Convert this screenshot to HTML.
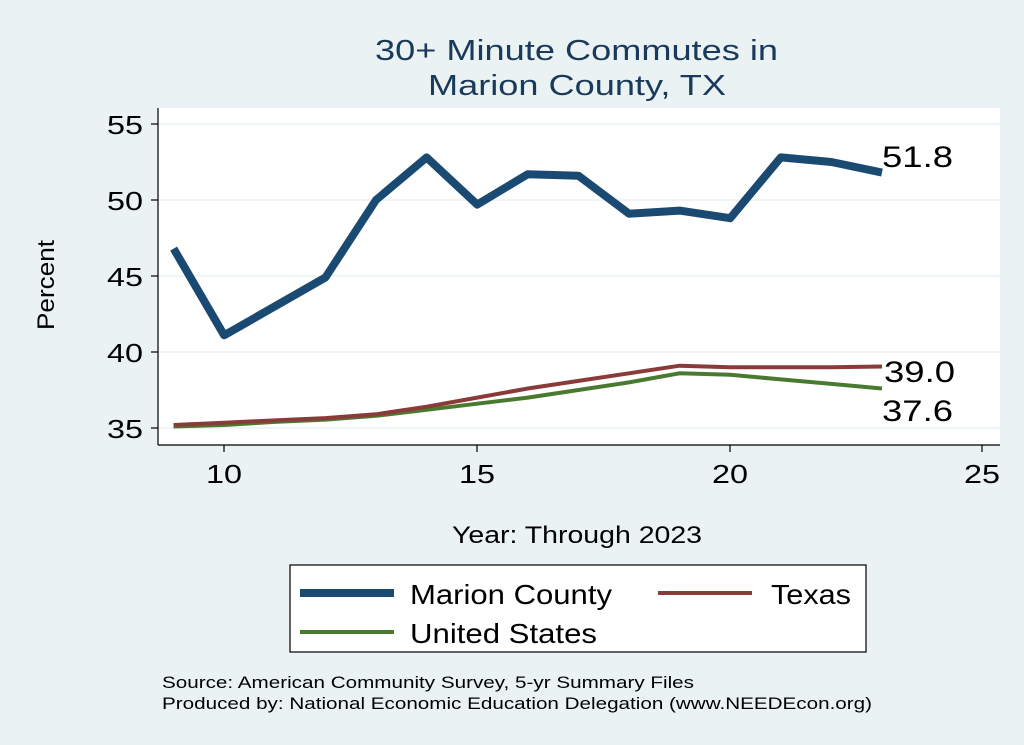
<!DOCTYPE html>
<html><head><meta charset="utf-8"><style>
html,body{margin:0;padding:0;background:#eaf2f3;}
svg{display:block;font-family:"Liberation Sans",Arial,sans-serif;}
</style></head><body>
<svg width="1024" height="745" viewBox="0 0 1024 745">
<rect width="1024" height="745" fill="#eaf2f3"/>
<text x="375" y="60" font-size="29" fill="#1a3a5c" textLength="403" lengthAdjust="spacingAndGlyphs">30+ Minute Commutes in</text>
<text x="428" y="95" font-size="29" fill="#1a3a5c" textLength="298" lengthAdjust="spacingAndGlyphs">Marion County, TX</text>
<rect x="158" y="108" width="842" height="337" fill="#fff"/>
<g stroke="#eaf2f3" stroke-width="1.5">
<line x1="158" x2="1000" y1="124" y2="124"/><line x1="158" x2="1000" y1="200" y2="200"/>
<line x1="158" x2="1000" y1="276" y2="276"/><line x1="158" x2="1000" y1="352" y2="352"/>
<line x1="158" x2="1000" y1="428" y2="428"/>
</g>
<g stroke="#000" stroke-width="1.2" fill="none">
<line x1="158" y1="108" x2="158" y2="445"/><line x1="158" y1="445" x2="1000" y2="445"/>
<line x1="151" x2="158" y1="124" y2="124"/><line x1="151" x2="158" y1="200" y2="200"/>
<line x1="151" x2="158" y1="276" y2="276"/><line x1="151" x2="158" y1="352" y2="352"/>
<line x1="151" x2="158" y1="428" y2="428"/>
<line x1="224" x2="224" y1="445" y2="452"/><line x1="477" x2="477" y1="445" y2="452"/>
<line x1="730" x2="730" y1="445" y2="452"/><line x1="982" x2="982" y1="445" y2="452"/>
</g>
<g font-size="26" fill="#000">
<text x="107" y="134" textLength="36" lengthAdjust="spacingAndGlyphs">55</text>
<text x="107" y="210" textLength="36" lengthAdjust="spacingAndGlyphs">50</text>
<text x="107" y="286" textLength="36" lengthAdjust="spacingAndGlyphs">45</text>
<text x="107" y="362" textLength="36" lengthAdjust="spacingAndGlyphs">40</text>
<text x="107" y="438" textLength="36" lengthAdjust="spacingAndGlyphs">35</text>
</g>
<g font-size="26" fill="#000">
<text x="206" y="483" textLength="36" lengthAdjust="spacingAndGlyphs">10</text>
<text x="459" y="483" textLength="36" lengthAdjust="spacingAndGlyphs">15</text>
<text x="712" y="483" textLength="36" lengthAdjust="spacingAndGlyphs">20</text>
<text x="964" y="483" textLength="36" lengthAdjust="spacingAndGlyphs">25</text>
</g>
<text x="452" y="543" font-size="24" textLength="250" lengthAdjust="spacingAndGlyphs">Year: Through 2023</text>
<text transform="translate(54,330) rotate(-90)" font-size="24" textLength="90" lengthAdjust="spacingAndGlyphs">Percent</text>
<polyline fill="none" stroke="#4a7a2f" stroke-width="4" points="173.6,426.5 224.2,425 274.8,421.9 325.4,419.6 376,415.8 426.6,409.8 477.2,403.7 527.8,397.6 578.4,390 629,382.4 679.6,373.3 730.2,374.8 780.8,379.4 831.4,383.9 882,388.5"/>
<polyline fill="none" stroke="#8b3a3a" stroke-width="4" points="173.6,425 224.2,422.7 274.8,420.4 325.4,418.1 376,414.3 426.6,406.7 477.2,397.6 527.8,388.5 578.4,380.9 629,373.3 679.6,365.7 730.2,367.2 780.8,367.2 831.4,367.2 882,366.5"/>
<polyline fill="none" stroke="#1a4a72" stroke-width="8" stroke-linejoin="round" points="173.6,248.6 224.2,335.3 274.8,306.4 325.4,277.5 376,200 426.6,157.4 477.2,204.6 527.8,174.2 578.4,175.7 629,213.7 679.6,210.6 730.2,218.2 780.8,157.4 831.4,162 882,172.6"/>
<g font-size="30" fill="#000">
<text x="882" y="167" textLength="71" lengthAdjust="spacingAndGlyphs">51.8</text>
<text x="884" y="382" textLength="71" lengthAdjust="spacingAndGlyphs">39.0</text>
<text x="882" y="421" textLength="71" lengthAdjust="spacingAndGlyphs">37.6</text>
</g>
<rect x="290" y="565" width="576" height="87" fill="#fff" stroke="#000" stroke-width="1.2"/>
<line x1="300" x2="394" y1="593" y2="593" stroke="#1a4a72" stroke-width="8"/>
<text x="410" y="604" font-size="28" textLength="202" lengthAdjust="spacingAndGlyphs">Marion County</text>
<line x1="658" x2="752" y1="593" y2="593" stroke="#8b3a3a" stroke-width="4"/>
<text x="771" y="604" font-size="28" textLength="80" lengthAdjust="spacingAndGlyphs">Texas</text>
<line x1="300" x2="394" y1="632" y2="632" stroke="#4a7a2f" stroke-width="4"/>
<text x="410" y="643" font-size="28" textLength="187" lengthAdjust="spacingAndGlyphs">United States</text>
<text x="162" y="688" font-size="17" textLength="532" lengthAdjust="spacingAndGlyphs">Source: American Community Survey, 5-yr Summary Files</text>
<text x="162" y="709" font-size="17" textLength="710" lengthAdjust="spacingAndGlyphs">Produced by: National Economic Education Delegation (www.NEEDEcon.org)</text>
</svg>
</body></html>
